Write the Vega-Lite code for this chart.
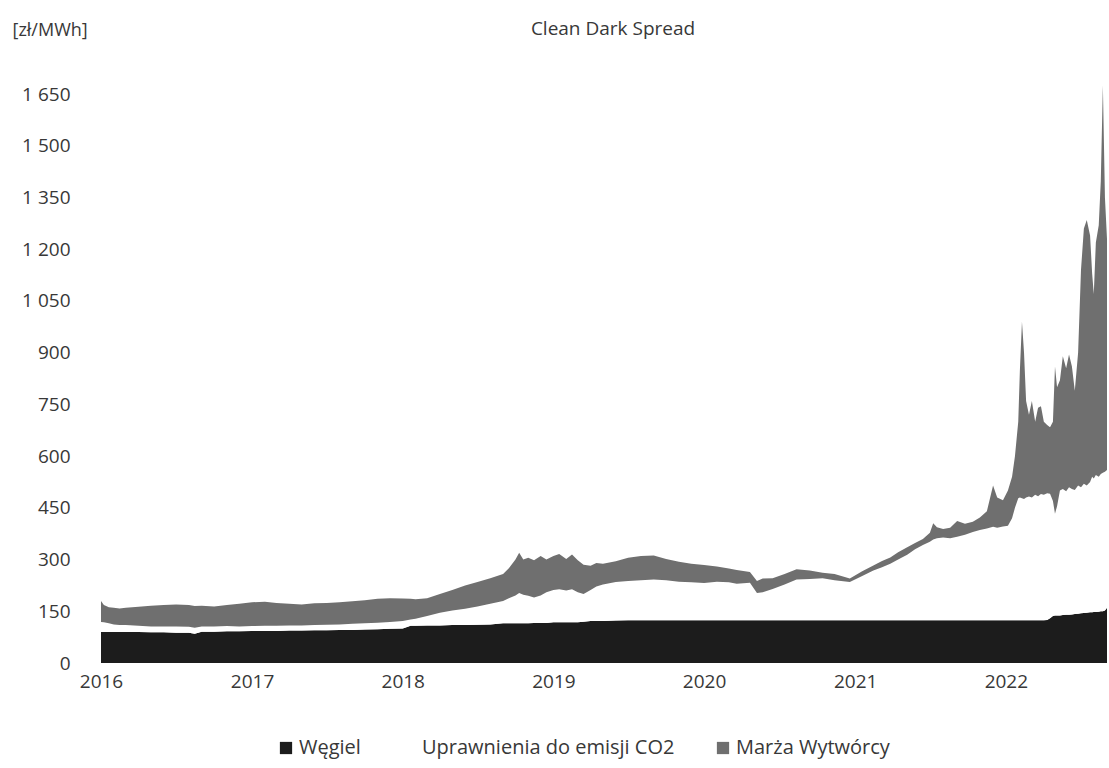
{
  "$schema": "https://vega.github.io/schema/vega-lite/v6.json",
  "width": 1006,
  "height": 593,
  "autosize": {"type": "none"},
  "padding": {"left": 101, "top": 70, "right": 2, "bottom": 105},
  "background": "white",
  "title": {"text": "Clean Dark Spread", "font": "Open Sans", "fontSize": 19, "fontWeight": "normal", "color": "#383838", "anchor": "middle", "dx": 9, "offset": -18},
  "config": {"view": {"stroke": null}},
  "data": {"values": [
    {"data": "2016-01-01", "Węgiel": 90, "Uprawnienia do emisji CO2": 29, "Marża Wytwórcy": 61},
    {"data": "2016-01-08", "Węgiel": 90, "Uprawnienia do emisji CO2": 28, "Marża Wytwórcy": 50},
    {"data": "2016-01-20", "Węgiel": 90, "Uprawnienia do emisji CO2": 25, "Marża Wytwórcy": 47},
    {"data": "2016-02-01", "Węgiel": 90, "Uprawnienia do emisji CO2": 22, "Marża Wytwórcy": 48},
    {"data": "2016-02-15", "Węgiel": 90, "Uprawnienia do emisji CO2": 20, "Marża Wytwórcy": 48},
    {"data": "2016-03-01", "Węgiel": 90, "Uprawnienia do emisji CO2": 20, "Marża Wytwórcy": 50},
    {"data": "2016-04-01", "Węgiel": 90, "Uprawnienia do emisji CO2": 18, "Marża Wytwórcy": 55},
    {"data": "2016-05-01", "Węgiel": 89, "Uprawnienia do emisji CO2": 17, "Marża Wytwórcy": 60},
    {"data": "2016-06-01", "Węgiel": 89, "Uprawnienia do emisji CO2": 17, "Marża Wytwórcy": 62},
    {"data": "2016-07-01", "Węgiel": 88, "Uprawnienia do emisji CO2": 18, "Marża Wytwórcy": 64},
    {"data": "2016-08-01", "Węgiel": 88, "Uprawnienia do emisji CO2": 17, "Marża Wytwórcy": 63},
    {"data": "2016-08-15", "Węgiel": 85, "Uprawnienia do emisji CO2": 17, "Marża Wytwórcy": 63},
    {"data": "2016-09-01", "Węgiel": 91, "Uprawnienia do emisji CO2": 15, "Marża Wytwórcy": 60},
    {"data": "2016-10-01", "Węgiel": 91, "Uprawnienia do emisji CO2": 15, "Marża Wytwórcy": 58},
    {"data": "2016-11-01", "Węgiel": 92, "Uprawnienia do emisji CO2": 15, "Marża Wytwórcy": 61},
    {"data": "2016-12-01", "Węgiel": 92, "Uprawnienia do emisji CO2": 14, "Marża Wytwórcy": 66},
    {"data": "2017-01-01", "Węgiel": 93, "Uprawnienia do emisji CO2": 14, "Marża Wytwórcy": 69},
    {"data": "2017-02-01", "Węgiel": 93, "Uprawnienia do emisji CO2": 15, "Marża Wytwórcy": 70},
    {"data": "2017-03-01", "Węgiel": 93, "Uprawnienia do emisji CO2": 15, "Marża Wytwórcy": 66},
    {"data": "2017-04-01", "Węgiel": 94, "Uprawnienia do emisji CO2": 15, "Marża Wytwórcy": 63},
    {"data": "2017-05-01", "Węgiel": 94, "Uprawnienia do emisji CO2": 15, "Marża Wytwórcy": 61},
    {"data": "2017-06-01", "Węgiel": 95, "Uprawnienia do emisji CO2": 15, "Marża Wytwórcy": 63},
    {"data": "2017-07-01", "Węgiel": 95, "Uprawnienia do emisji CO2": 16, "Marża Wytwórcy": 63},
    {"data": "2017-08-01", "Węgiel": 96, "Uprawnienia do emisji CO2": 16, "Marża Wytwórcy": 64},
    {"data": "2017-09-01", "Węgiel": 96, "Uprawnienia do emisji CO2": 18, "Marża Wytwórcy": 65},
    {"data": "2017-10-01", "Węgiel": 97, "Uprawnienia do emisji CO2": 18, "Marża Wytwórcy": 67},
    {"data": "2017-11-01", "Węgiel": 98, "Uprawnienia do emisji CO2": 19, "Marża Wytwórcy": 69},
    {"data": "2017-12-01", "Węgiel": 99, "Uprawnienia do emisji CO2": 20, "Marża Wytwórcy": 69},
    {"data": "2018-01-01", "Węgiel": 100, "Uprawnienia do emisji CO2": 22, "Marża Wytwórcy": 65},
    {"data": "2018-01-20", "Węgiel": 108, "Uprawnienia do emisji CO2": 18, "Marża Wytwórcy": 60},
    {"data": "2018-02-01", "Węgiel": 108, "Uprawnienia do emisji CO2": 20, "Marża Wytwórcy": 57},
    {"data": "2018-03-01", "Węgiel": 109, "Uprawnienia do emisji CO2": 27, "Marża Wytwórcy": 52},
    {"data": "2018-04-01", "Węgiel": 109, "Uprawnienia do emisji CO2": 37, "Marża Wytwórcy": 54},
    {"data": "2018-05-01", "Węgiel": 110, "Uprawnienia do emisji CO2": 42, "Marża Wytwórcy": 60},
    {"data": "2018-06-01", "Węgiel": 110, "Uprawnienia do emisji CO2": 47, "Marża Wytwórcy": 68},
    {"data": "2018-07-01", "Węgiel": 111, "Uprawnienia do emisji CO2": 53, "Marża Wytwórcy": 71},
    {"data": "2018-08-01", "Węgiel": 112, "Uprawnienia do emisji CO2": 60, "Marża Wytwórcy": 74},
    {"data": "2018-09-01", "Węgiel": 115, "Uprawnienia do emisji CO2": 65, "Marża Wytwórcy": 78},
    {"data": "2018-09-15", "Węgiel": 115, "Uprawnienia do emisji CO2": 73, "Marża Wytwórcy": 87},
    {"data": "2018-10-01", "Węgiel": 115, "Uprawnienia do emisji CO2": 81, "Marża Wytwórcy": 104},
    {"data": "2018-10-10", "Węgiel": 115, "Uprawnienia do emisji CO2": 88, "Marża Wytwórcy": 117},
    {"data": "2018-10-20", "Węgiel": 115, "Uprawnienia do emisji CO2": 83, "Marża Wytwórcy": 102},
    {"data": "2018-11-01", "Węgiel": 115, "Uprawnienia do emisji CO2": 80, "Marża Wytwórcy": 110},
    {"data": "2018-11-15", "Węgiel": 116, "Uprawnienia do emisji CO2": 74, "Marża Wytwórcy": 108},
    {"data": "2018-12-01", "Węgiel": 116, "Uprawnienia do emisji CO2": 80, "Marża Wytwórcy": 114},
    {"data": "2018-12-15", "Węgiel": 116, "Uprawnienia do emisji CO2": 89, "Marża Wytwórcy": 95},
    {"data": "2019-01-01", "Węgiel": 118, "Uprawnienia do emisji CO2": 94, "Marża Wytwórcy": 98},
    {"data": "2019-01-15", "Węgiel": 118, "Uprawnienia do emisji CO2": 96, "Marża Wytwórcy": 102},
    {"data": "2019-02-01", "Węgiel": 118, "Uprawnienia do emisji CO2": 92, "Marża Wytwórcy": 92},
    {"data": "2019-02-15", "Węgiel": 118, "Uprawnienia do emisji CO2": 96, "Marża Wytwórcy": 101},
    {"data": "2019-03-01", "Węgiel": 118, "Uprawnienia do emisji CO2": 87, "Marża Wytwórcy": 93},
    {"data": "2019-03-15", "Węgiel": 120, "Uprawnienia do emisji CO2": 80, "Marża Wytwórcy": 85},
    {"data": "2019-04-01", "Węgiel": 122, "Uprawnienia do emisji CO2": 90, "Marża Wytwórcy": 70},
    {"data": "2019-04-15", "Węgiel": 122, "Uprawnienia do emisji CO2": 100, "Marża Wytwórcy": 68},
    {"data": "2019-05-01", "Węgiel": 122, "Uprawnienia do emisji CO2": 106, "Marża Wytwórcy": 60},
    {"data": "2019-06-01", "Węgiel": 123, "Uprawnienia do emisji CO2": 112, "Marża Wytwórcy": 60},
    {"data": "2019-07-01", "Węgiel": 124, "Uprawnienia do emisji CO2": 114, "Marża Wytwórcy": 67},
    {"data": "2019-08-01", "Węgiel": 124, "Uprawnienia do emisji CO2": 116, "Marża Wytwórcy": 70},
    {"data": "2019-09-01", "Węgiel": 124, "Uprawnienia do emisji CO2": 118, "Marża Wytwórcy": 70},
    {"data": "2019-10-01", "Węgiel": 124, "Uprawnienia do emisji CO2": 116, "Marża Wytwórcy": 62},
    {"data": "2019-11-01", "Węgiel": 124, "Uprawnienia do emisji CO2": 112, "Marża Wytwórcy": 58},
    {"data": "2019-12-01", "Węgiel": 124, "Uprawnienia do emisji CO2": 110, "Marża Wytwórcy": 54},
    {"data": "2020-01-01", "Węgiel": 124, "Uprawnienia do emisji CO2": 108, "Marża Wytwórcy": 52},
    {"data": "2020-02-01", "Węgiel": 124, "Uprawnienia do emisji CO2": 112, "Marża Wytwórcy": 44},
    {"data": "2020-03-01", "Węgiel": 124, "Uprawnienia do emisji CO2": 110, "Marża Wytwórcy": 40},
    {"data": "2020-03-20", "Węgiel": 124, "Uprawnienia do emisji CO2": 106, "Marża Wytwórcy": 40},
    {"data": "2020-04-21", "Węgiel": 124, "Uprawnienia do emisji CO2": 109, "Marża Wytwórcy": 31},
    {"data": "2020-05-08", "Węgiel": 124, "Uprawnienia do emisji CO2": 79, "Marża Wytwórcy": 35},
    {"data": "2020-05-22", "Węgiel": 124, "Uprawnienia do emisji CO2": 81, "Marża Wytwórcy": 40},
    {"data": "2020-06-15", "Węgiel": 124, "Uprawnienia do emisji CO2": 91, "Marża Wytwórcy": 31},
    {"data": "2020-07-14", "Węgiel": 124, "Uprawnienia do emisji CO2": 104, "Marża Wytwórcy": 30},
    {"data": "2020-08-12", "Węgiel": 124, "Uprawnienia do emisji CO2": 118, "Marża Wytwórcy": 30},
    {"data": "2020-09-13", "Węgiel": 124, "Uprawnienia do emisji CO2": 120, "Marża Wytwórcy": 24},
    {"data": "2020-10-14", "Węgiel": 124, "Uprawnienia do emisji CO2": 122, "Marża Wytwórcy": 16},
    {"data": "2020-11-12", "Węgiel": 124, "Uprawnienia do emisji CO2": 116, "Marża Wytwórcy": 18},
    {"data": "2020-12-19", "Węgiel": 124, "Uprawnienia do emisji CO2": 111, "Marża Wytwórcy": 10},
    {"data": "2021-01-18", "Węgiel": 124, "Uprawnienia do emisji CO2": 128, "Marża Wytwórcy": 14},
    {"data": "2021-02-14", "Węgiel": 124, "Uprawnienia do emisji CO2": 144, "Marża Wytwórcy": 15},
    {"data": "2021-03-07", "Węgiel": 124, "Uprawnienia do emisji CO2": 154, "Marża Wytwórcy": 18},
    {"data": "2021-03-27", "Węgiel": 124, "Uprawnienia do emisji CO2": 164, "Marża Wytwórcy": 18},
    {"data": "2021-04-15", "Węgiel": 124, "Uprawnienia do emisji CO2": 176, "Marża Wytwórcy": 21},
    {"data": "2021-05-07", "Węgiel": 124, "Uprawnienia do emisji CO2": 190, "Marża Wytwórcy": 22},
    {"data": "2021-05-26", "Węgiel": 124, "Uprawnienia do emisji CO2": 206, "Marża Wytwórcy": 18},
    {"data": "2021-06-14", "Węgiel": 124, "Uprawnienia do emisji CO2": 218, "Marża Wytwórcy": 18},
    {"data": "2021-07-01", "Węgiel": 124, "Uprawnienia do emisji CO2": 228, "Marża Wytwórcy": 26},
    {"data": "2021-07-09", "Węgiel": 124, "Uprawnienia do emisji CO2": 234, "Marża Wytwórcy": 47},
    {"data": "2021-07-18", "Węgiel": 124, "Uprawnienia do emisji CO2": 238, "Marża Wytwórcy": 32},
    {"data": "2021-08-02", "Węgiel": 124, "Uprawnienia do emisji CO2": 240, "Marża Wytwórcy": 25},
    {"data": "2021-08-19", "Węgiel": 124, "Uprawnienia do emisji CO2": 238, "Marża Wytwórcy": 30},
    {"data": "2021-09-05", "Węgiel": 124, "Uprawnienia do emisji CO2": 242, "Marża Wytwórcy": 46},
    {"data": "2021-09-24", "Węgiel": 124, "Uprawnienia do emisji CO2": 248, "Marża Wytwórcy": 32},
    {"data": "2021-10-13", "Węgiel": 124, "Uprawnienia do emisji CO2": 256, "Marża Wytwórcy": 30},
    {"data": "2021-10-30", "Węgiel": 124, "Uprawnienia do emisji CO2": 262, "Marża Wytwórcy": 36},
    {"data": "2021-11-16", "Węgiel": 124, "Uprawnienia do emisji CO2": 266, "Marża Wytwórcy": 50},
    {"data": "2021-12-01", "Węgiel": 124, "Uprawnienia do emisji CO2": 271, "Marża Wytwórcy": 120},
    {"data": "2021-12-11", "Węgiel": 124, "Uprawnienia do emisji CO2": 268, "Marża Wytwórcy": 88},
    {"data": "2021-12-25", "Węgiel": 124, "Uprawnienia do emisji CO2": 272, "Marża Wytwórcy": 76},
    {"data": "2022-01-06", "Węgiel": 124, "Uprawnienia do emisji CO2": 274, "Marża Wytwórcy": 102},
    {"data": "2022-01-16", "Węgiel": 124, "Uprawnienia do emisji CO2": 296, "Marża Wytwórcy": 120},
    {"data": "2022-01-23", "Węgiel": 124, "Uprawnienia do emisji CO2": 326, "Marża Wytwórcy": 150},
    {"data": "2022-01-31", "Węgiel": 124, "Uprawnienia do emisji CO2": 354, "Marża Wytwórcy": 222},
    {"data": "2022-02-04", "Węgiel": 124, "Uprawnienia do emisji CO2": 356, "Marża Wytwórcy": 370},
    {"data": "2022-02-09", "Węgiel": 124, "Uprawnienia do emisji CO2": 354, "Marża Wytwórcy": 512},
    {"data": "2022-02-14", "Węgiel": 124, "Uprawnienia do emisji CO2": 352, "Marża Wytwórcy": 424},
    {"data": "2022-02-19", "Węgiel": 124, "Uprawnienia do emisji CO2": 356, "Marża Wytwórcy": 280},
    {"data": "2022-02-26", "Węgiel": 124, "Uprawnienia do emisji CO2": 359, "Marża Wytwórcy": 237},
    {"data": "2022-03-05", "Węgiel": 124, "Uprawnienia do emisji CO2": 356, "Marża Wytwórcy": 280},
    {"data": "2022-03-13", "Węgiel": 124, "Uprawnienia do emisji CO2": 364, "Marża Wytwórcy": 212},
    {"data": "2022-03-20", "Węgiel": 124, "Uprawnienia do emisji CO2": 360, "Marża Wytwórcy": 256},
    {"data": "2022-03-27", "Węgiel": 124, "Uprawnienia do emisji CO2": 366, "Marża Wytwórcy": 255},
    {"data": "2022-04-03", "Węgiel": 124, "Uprawnienia do emisji CO2": 364, "Marża Wytwórcy": 212},
    {"data": "2022-04-11", "Węgiel": 125, "Uprawnienia do emisji CO2": 367, "Marża Wytwórcy": 198},
    {"data": "2022-04-18", "Węgiel": 130, "Uprawnienia do emisji CO2": 361, "Marża Wytwórcy": 193},
    {"data": "2022-04-25", "Węgiel": 136, "Uprawnienia do emisji CO2": 334, "Marża Wytwórcy": 230},
    {"data": "2022-04-30", "Węgiel": 138, "Uprawnienia do emisji CO2": 295, "Marża Wytwórcy": 427},
    {"data": "2022-05-05", "Węgiel": 138, "Uprawnienia do emisji CO2": 317, "Marża Wytwórcy": 345},
    {"data": "2022-05-12", "Węgiel": 138, "Uprawnienia do emisji CO2": 362, "Marża Wytwórcy": 320},
    {"data": "2022-05-19", "Węgiel": 139, "Uprawnienia do emisji CO2": 366, "Marża Wytwórcy": 385},
    {"data": "2022-05-27", "Węgiel": 140, "Uprawnienia do emisji CO2": 358, "Marża Wytwórcy": 357},
    {"data": "2022-06-03", "Węgiel": 140, "Uprawnienia do emisji CO2": 370, "Marża Wytwórcy": 385},
    {"data": "2022-06-10", "Węgiel": 141, "Uprawnienia do emisji CO2": 364, "Marża Wytwórcy": 355},
    {"data": "2022-06-17", "Węgiel": 142, "Uprawnienia do emisji CO2": 360, "Marża Wytwórcy": 288},
    {"data": "2022-06-25", "Węgiel": 143, "Uprawnienia do emisji CO2": 372, "Marża Wytwórcy": 385},
    {"data": "2022-07-02", "Węgiel": 144, "Uprawnienia do emisji CO2": 366, "Marża Wytwórcy": 630},
    {"data": "2022-07-09", "Węgiel": 145, "Uprawnienia do emisji CO2": 375, "Marża Wytwórcy": 740},
    {"data": "2022-07-16", "Węgiel": 146, "Uprawnienia do emisji CO2": 369, "Marża Wytwórcy": 770},
    {"data": "2022-07-24", "Węgiel": 147, "Uprawnienia do emisji CO2": 378, "Marża Wytwórcy": 715},
    {"data": "2022-07-29", "Węgiel": 147, "Uprawnienia do emisji CO2": 393, "Marża Wytwórcy": 590},
    {"data": "2022-08-02", "Węgiel": 148, "Uprawnienia do emisji CO2": 387, "Marża Wytwórcy": 535},
    {"data": "2022-08-07", "Węgiel": 148, "Uprawnienia do emisji CO2": 397, "Marża Wytwórcy": 675},
    {"data": "2022-08-14", "Węgiel": 149, "Uprawnienia do emisji CO2": 391, "Marża Wytwórcy": 730},
    {"data": "2022-08-19", "Węgiel": 150, "Uprawnienia do emisji CO2": 398, "Marża Wytwórcy": 850},
    {"data": "2022-08-24", "Węgiel": 150, "Uprawnienia do emisji CO2": 402, "Marża Wytwórcy": 1123},
    {"data": "2022-08-29", "Węgiel": 152, "Uprawnienia do emisji CO2": 403, "Marża Wytwórcy": 795},
    {"data": "2022-09-03", "Węgiel": 160, "Uprawnienia do emisji CO2": 400, "Marża Wytwórcy": 670}
  ]},
  "transform": [
    {"fold": ["Węgiel", "Uprawnienia do emisji CO2", "Marża Wytwórcy"], "as": ["seria", "wartosc"]}
  ],
  "mark": {"type": "area", "interpolate": "linear", "strokeWidth": 0},
  "encoding": {
    "x": {
      "field": "data", "type": "temporal",
      "scale": {"type": "utc", "domain": [{"year": 2016, "month": 1, "date": 1, "utc": true}, {"year": 2022, "month": 9, "date": 3, "utc": true}]},
      "axis": {
        "title": null, "format": "%Y", "formatType": "utc",
        "values": [
          {"year": 2016, "month": 1, "date": 1, "utc": true},
          {"year": 2017, "month": 1, "date": 1, "utc": true},
          {"year": 2018, "month": 1, "date": 1, "utc": true},
          {"year": 2019, "month": 1, "date": 1, "utc": true},
          {"year": 2020, "month": 1, "date": 1, "utc": true},
          {"year": 2021, "month": 1, "date": 1, "utc": true},
          {"year": 2022, "month": 1, "date": 1, "utc": true}
        ],
        "domain": false, "ticks": false, "tickSize": 0, "grid": false,
        "labelFont": "Open Sans", "labelFontSize": 19, "labelColor": "#383838",
        "labelPadding": 9, "labelFlush": false, "labelOverlap": false
      }
    },
    "y": {
      "field": "wartosc", "type": "quantitative", "stack": "zero",
      "scale": {"domain": [0, 1720], "nice": false, "zero": true},
      "axis": {
        "title": "[zł/MWh]", "titleAngle": 0, "titleAlign": "left", "titleBaseline": "middle",
        "titleX": -89, "titleY": -40, "titleFont": "Open Sans", "titleFontSize": 18, "titleFontWeight": "normal", "titleColor": "#383838",
        "values": [0, 150, 300, 450, 600, 750, 900, 1050, 1200, 1350, 1500, 1650],
        "labelExpr": "replace(format(datum.value, ','), ',', ' ')",
        "domain": false, "ticks": false, "tickSize": 0, "grid": false,
        "labelFont": "Open Sans", "labelFontSize": 19, "labelColor": "#383838",
        "labelPadding": 31
      }
    },
    "color": {
      "field": "seria", "type": "nominal",
      "scale": {"domain": ["Węgiel", "Uprawnienia do emisji CO2", "Marża Wytwórcy"], "range": ["#1c1c1c", "#ffffff", "#6f6f6f"]},
      "legend": {
        "title": null, "orient": "none", "direction": "horizontal", "legendX": 175, "legendY": 668,
        "symbolType": "square", "symbolSize": 150, "symbolStrokeWidth": 0, "symbolOpacity": 1,
        "labelFont": "Open Sans", "labelFontSize": 20, "labelColor": "#383838", "labelOffset": 3, "labelLimit": 0,
        "columnPadding": 38, "padding": 0
      }
    },
    "order": {"field": "seria", "sort": "descending"}
  }
}
